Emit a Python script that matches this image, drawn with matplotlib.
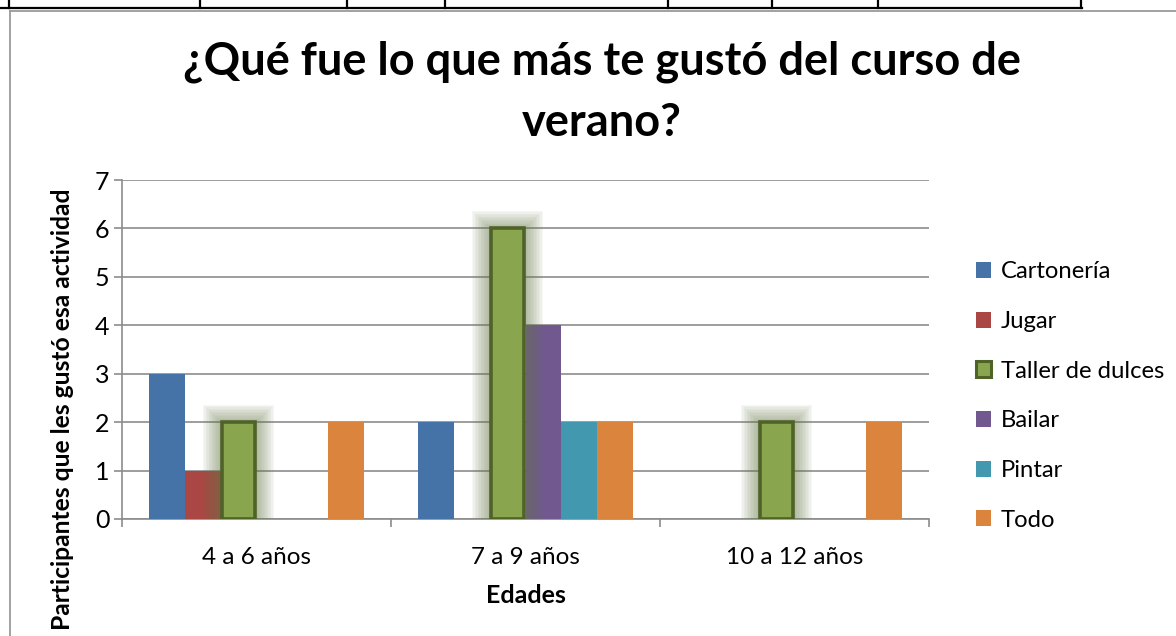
import numpy as np
import matplotlib
matplotlib.use('Agg')
import matplotlib.pyplot as plt
from matplotlib.patches import Patch, Rectangle
from matplotlib.lines import Line2D

# data
edades = ['4 a 6 años', '7 a 9 años', '10 a 12 años']
series = ['Cartonería', 'Jugar', 'Taller de dulces', 'Bailar', 'Pintar', 'Todo']
cartoneria = [3, 2, 0]
jugar = [1, 0, 0]
taller = [2, 6, 2]
bailar = [0, 4, 0]
pintar = [0, 2, 0]
todo = [2, 2, 2]
valores = [cartoneria, jugar, taller, bailar, pintar, todo]
colores = ['#4572A7', '#AA4643', '#89A54E', '#71588F', '#4198AF', '#DB843D']
verde_borde = '#4F6228'

plt.rcParams['font.family'] = ['Lato', 'DejaVu Sans']

fig = plt.figure(figsize=(11.76, 6.36), dpi=100)

# table row above the chart and chart frame
W, H = 1176, 636
def fx(px): return px / W
def fy(py): return 1 - py / H
fig.add_artist(Line2D([0, fx(1082)], [fy(8), fy(8)], color='black', lw=1.6))
for xv in [9, 200, 347, 445, 668, 772, 878, 1081]:
    fig.add_artist(Line2D([fx(xv), fx(xv)], [1, fy(8)], color='black', lw=1.6))
fig.add_artist(Line2D([fx(10), 1], [fy(10.5), fy(10.5)], color='#9a9a9a', lw=1.3))
fig.add_artist(Line2D([fx(10), fx(10)], [fy(10.5), 0], color='#9a9a9a', lw=1.3))

ax = fig.add_axes([fx(122), fy(519), fx(929) - fx(122), fy(180) - fy(519)])

n = len(series)
bw = 1 / 7.5
x = np.arange(len(edades))
for i, (nombre, vals, c) in enumerate(zip(series, valores, colores)):
    pos = x + 0.75 * bw + i * bw + bw / 2
    if nombre == 'Taller de dulces':
        # soft glow around highlighted bars
        for p, v in zip(pos, vals):
            for k in range(12):
                d = 0.0055 * (k + 1)
                ax.add_patch(Rectangle((p - bw / 2 - d, 0), bw + 2 * d, v + d * 5.5,
                                       facecolor='#6b7d50', edgecolor='none',
                                       alpha=0.055, zorder=2.5))
        ax.bar(pos, vals, width=bw * 0.93, color=c, edgecolor=verde_borde,
               linewidth=2.6, zorder=3, label=nombre)
    else:
        ax.bar(pos, vals, width=bw, color=c, linewidth=0, zorder=2, label=nombre)

ax.set_xlim(0, 3)
ax.set_ylim(0, 7)
ax.set_yticks(range(0, 8))
ax.yaxis.grid(True, color='#8c8c8c', linewidth=1.2)
ax.set_axisbelow(True)
for s in ['top', 'right']:
    ax.spines[s].set_visible(False)
for s in ['left', 'bottom']:
    ax.spines[s].set_color('#8c8c8c')
    ax.spines[s].set_linewidth(1.2)
    ax.spines[s].set_zorder(1)

ax.set_xticks([0, 1, 2, 3])
ax.set_xticklabels([])
ax.set_xticks(x + 0.5, minor=True)
ax.set_xticklabels(edades, minor=True)
ax.tick_params(axis='x', which='major', length=6, width=1.2, color='#8c8c8c')
ax.tick_params(axis='x', which='minor', length=0, pad=20, labelsize=17.5)
ax.tick_params(axis='y', length=6, width=1.2, color='#8c8c8c', labelsize=18, pad=3)

ax.set_xlabel('Edades', fontsize=18, fontweight='bold', labelpad=12)
fig.text(fx(63), fy(409), 'Participantes que les gustó esa actividad',
         rotation=90, ha='center', va='center', fontsize=17.7, fontweight='bold')

fig.text(0.512, fy(92), '¿Qué fue lo que más te gustó del curso de\nverano?',
         ha='center', va='center', fontsize=32.5, fontweight='bold',
         linespacing=1.55)

handles = []
for nombre, c in zip(series, colores):
    if nombre == 'Taller de dulces':
        handles.append(Patch(facecolor=c, edgecolor=verde_borde, linewidth=2.2,
                             label=nombre))
    else:
        handles.append(Patch(facecolor=c, edgecolor='none', label=nombre))
fig.legend(handles=handles, loc='center left', bbox_to_anchor=(fx(966), fy(396)),
           frameon=False, fontsize=17.2, handlelength=0.65, handleheight=0.65,
           handletextpad=0.4, labelspacing=1.2, borderaxespad=0)

fig.savefig('out.png', dpi=100)
